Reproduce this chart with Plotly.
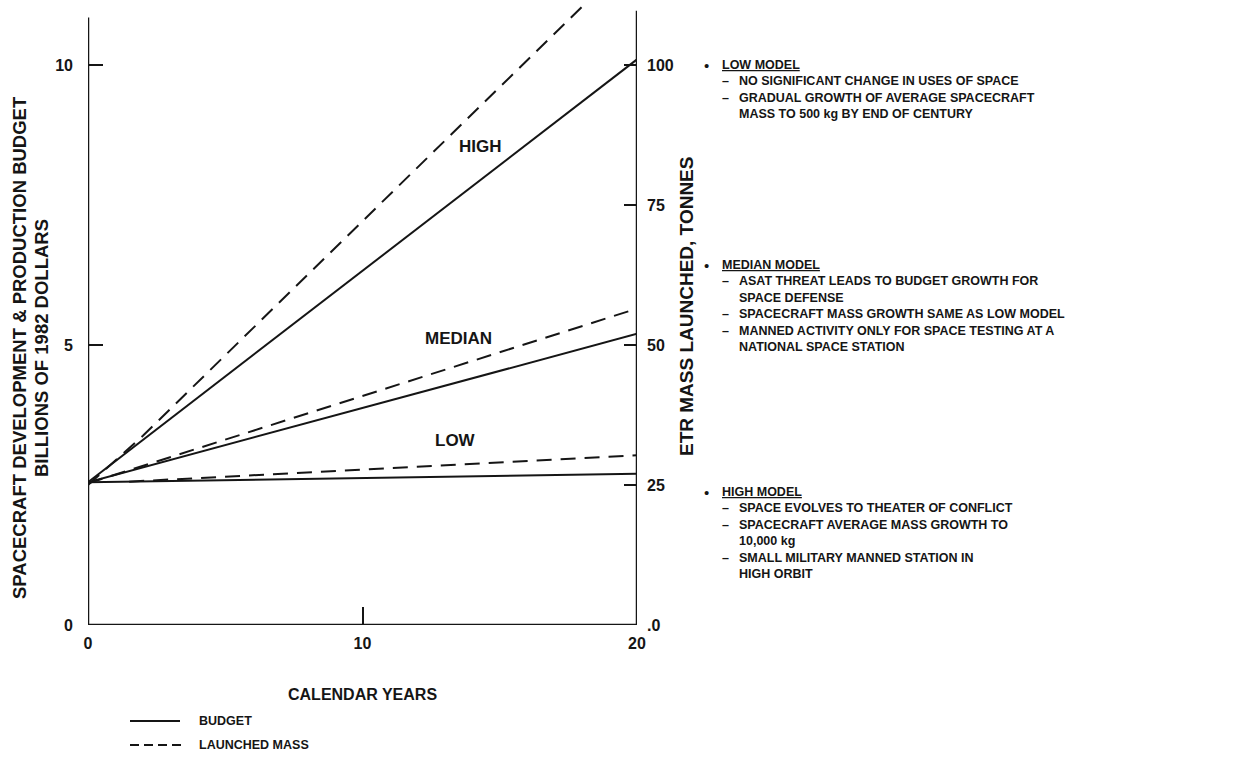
import plotly.graph_objects as go

# ---- data -------------------------------------------------------------
years = [0, 20]
budget_low = [2.55, 2.7]        # billions of 1982 dollars
budget_median = [2.55, 5.2]
budget_high = [2.55, 10.1]

mass_years_low = [1.5, 20]
mass_low = [25.6, 30.3]         # tonnes launched from ETR
mass_median = [25.3, 56.5]
mass_years_high = [0, 2, 20]
mass_high = [25.0, 33.8, 120.0]

left_ticks = [0, 5, 10]
right_ticks = [0, 25, 50, 75, 100]
right_tick_text = [".0", "25", "50", "75", "100"]
x_ticks = [0, 10, 20]

curve_labels = ["HIGH", "MEDIAN", "LOW"]
curve_label_pos = [(14.3, 8.55), (13.5, 5.12), (13.4, 3.3)]

model_notes = [
    ("LOW MODEL", [
        ("– ", "NO SIGNIFICANT CHANGE IN USES OF SPACE"),
        ("– ", "GRADUAL GROWTH OF AVERAGE SPACECRAFT"),
        ("", "MASS TO 500 kg BY END OF CENTURY"),
    ]),
    ("MEDIAN MODEL", [
        ("– ", "ASAT THREAT LEADS TO BUDGET GROWTH FOR"),
        ("", "SPACE DEFENSE"),
        ("– ", "SPACECRAFT MASS GROWTH SAME AS LOW MODEL"),
        ("– ", "MANNED ACTIVITY ONLY FOR SPACE TESTING AT A"),
        ("", "NATIONAL SPACE STATION"),
    ]),
    ("HIGH MODEL", [
        ("– ", "SPACE EVOLVES TO THEATER OF CONFLICT"),
        ("– ", "SPACECRAFT AVERAGE MASS GROWTH TO"),
        ("", "10,000 kg"),
        ("– ", "SMALL MILITARY MANNED STATION IN"),
        ("", "HIGH ORBIT"),
    ]),
]
note_tops = [65, 265, 492]

# ---- layout geometry (pixels) -------------------------------------------
W, H = 1247, 766
PL, PR, PT, PB = 88, 637, 5, 625
Y_PER_UNIT = 56.0
Y_MAX = (PB - PT) / Y_PER_UNIT


def px(x):
    return (x - PL) / (PR - PL)


def py(y):
    return (PB - y) / (PB - PT)


INK = "#151515"
FONT = "Liberation Sans, Arial, Helvetica, sans-serif"

fig = go.Figure()

line_solid = dict(color=INK, width=2)
line_dash = dict(color=INK, width=2, dash="15px,9px")

for yv in (budget_low, budget_median, budget_high):
    fig.add_trace(go.Scatter(x=years, y=yv, mode="lines", line=line_solid,
                             yaxis="y", showlegend=False, hoverinfo="skip"))

fig.add_trace(go.Scatter(x=mass_years_low, y=mass_low, mode="lines", line=line_dash,
                         yaxis="y2", showlegend=False, hoverinfo="skip"))
fig.add_trace(go.Scatter(x=years, y=mass_median, mode="lines", line=line_dash,
                         yaxis="y2", showlegend=False, hoverinfo="skip"))
fig.add_trace(go.Scatter(x=mass_years_high, y=mass_high, mode="lines", line=line_dash,
                         yaxis="y2", showlegend=False, hoverinfo="skip"))

tick_font = dict(family=FONT, size=16, color=INK, weight="bold")

fig.update_layout(
    width=W, height=H,
    margin=dict(l=PL, r=W - PR, t=PT, b=H - PB),
    paper_bgcolor="white", plot_bgcolor="white",
    showlegend=False,
    xaxis=dict(range=[0, 20], tickvals=x_ticks, ticktext=[str(v) for v in x_ticks],
               ticks="inside", ticklen=18, tickwidth=2, tickcolor=INK,
               showgrid=False, zeroline=False, showline=False,
               tickfont=tick_font, ticklabelstandoff=7),
    yaxis=dict(range=[0, Y_MAX], tickvals=left_ticks,
               ticks="inside", ticklen=15, tickwidth=2, tickcolor=INK,
               showgrid=False, zeroline=False, showline=False,
               tickfont=tick_font, ticklabelstandoff=14),
    yaxis2=dict(range=[0, Y_MAX * 10], overlaying="y", side="right",
                tickvals=right_ticks, ticktext=right_tick_text,
                ticks="inside", ticklen=13, tickwidth=2, tickcolor=INK,
                showgrid=False, zeroline=False, showline=False,
                tickfont=dict(family=FONT, size=16, color=INK, weight="bold"),
                ticklabelstandoff=9),
)

# axis frame lines
axis_line = dict(color=INK, width=2.5)
fig.add_shape(type="line", xref="x", yref="y", x0=0, x1=0, y0=0, y1=10.85, line=axis_line)
fig.add_shape(type="line", xref="x", yref="y", x0=20, x1=20, y0=0, y1=10.97, line=axis_line)
fig.add_shape(type="line", xref="x", yref="y", x0=0, x1=20, y0=0, y1=0, line=axis_line)

ann = []
label_font = dict(family=FONT, size=17, color=INK, weight="bold")
for name, (lx, ly) in zip(curve_labels, curve_label_pos):
    ann.append(dict(x=lx, y=ly, xref="x", yref="y", text=name, showarrow=False,
                    font=label_font, xanchor="center", yanchor="middle"))

# axis titles
side_title_font = dict(family=FONT, size=18.5, color=INK, weight="bold")
ann.append(dict(x=px(19), y=py(348), xref="paper", yref="paper",
                text="SPACECRAFT DEVELOPMENT & PRODUCTION BUDGET", textangle=-90,
                showarrow=False, font=side_title_font,
                xanchor="center", yanchor="middle"))
ann.append(dict(x=px(41), y=py(348), xref="paper", yref="paper",
                text="BILLIONS OF 1982 DOLLARS", textangle=-90,
                showarrow=False, font=side_title_font,
                xanchor="center", yanchor="middle"))
ann.append(dict(x=px(686), y=py(307), xref="paper", yref="paper",
                text="ETR MASS LAUNCHED, TONNES", textangle=-90,
                showarrow=False, font=dict(family=FONT, size=19, color=INK, weight="bold"),
                xanchor="center", yanchor="middle"))
ann.append(dict(x=px(362), y=py(695), xref="paper", yref="paper",
                text="CALENDAR YEARS", showarrow=False,
                font=dict(family=FONT, size=16, color=INK, weight="bold"),
                xanchor="center", yanchor="middle"))

# notes on the three models
note_font = dict(family=FONT, size=12.5, color=INK, weight="bold")
LINE_H = 16.4
for (head, items), top in zip(model_notes, note_tops):
    ann.append(dict(x=px(706), y=py(top), xref="paper", yref="paper", text="•",
                    showarrow=False, font=dict(family=FONT, size=15, color=INK),
                    xanchor="center", yanchor="middle"))
    ann.append(dict(x=px(720), y=py(top), xref="paper", yref="paper",
                    text='<span style="text-decoration:underline">' + head + "</span>",
                    showarrow=False, font=note_font, xanchor="left", yanchor="middle"))
    for i, (dash, txt) in enumerate(items):
        yy = top + LINE_H * (i + 1)
        if dash:
            ann.append(dict(x=px(720), y=py(yy), xref="paper", yref="paper", text="–",
                            showarrow=False, font=note_font, xanchor="left", yanchor="middle"))
        ann.append(dict(x=px(737), y=py(yy), xref="paper", yref="paper", text=txt,
                        showarrow=False, font=note_font, xanchor="left", yanchor="middle"))

# key
fig.add_shape(type="line", xref="paper", yref="paper", x0=px(130), x1=px(180),
              y0=py(721), y1=py(721), line=dict(color=INK, width=2))
fig.add_shape(type="line", xref="paper", yref="paper", x0=px(130), x1=px(181),
              y0=py(745), y1=py(745), line=dict(color=INK, width=2, dash="9px,5px"))
ann.append(dict(x=px(197), y=py(721), xref="paper", yref="paper", text="BUDGET",
                showarrow=False, font=note_font, xanchor="left", yanchor="middle"))
ann.append(dict(x=px(197), y=py(745), xref="paper", yref="paper", text="LAUNCHED MASS",
                showarrow=False, font=note_font, xanchor="left", yanchor="middle"))

fig.update_layout(annotations=ann)
fig.write_html("out.html")
